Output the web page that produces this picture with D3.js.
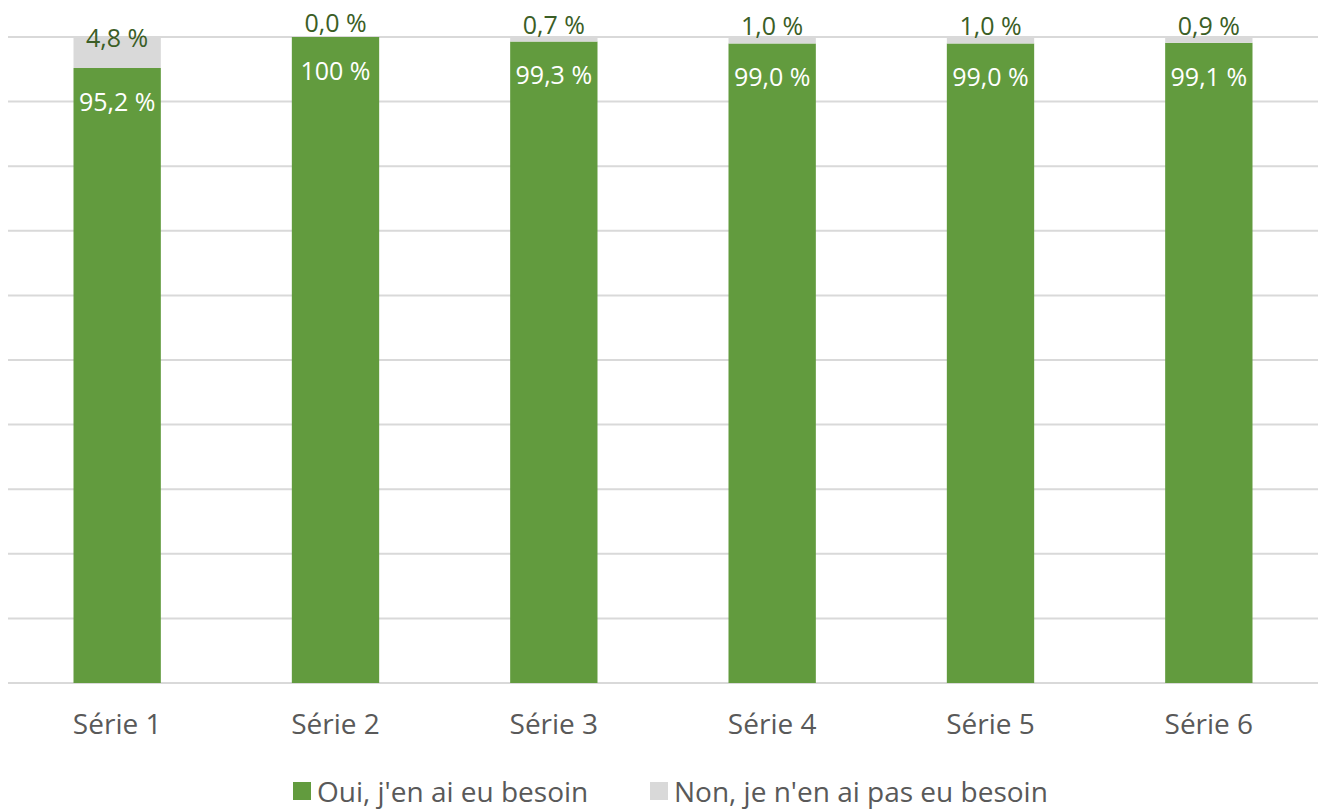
<!DOCTYPE html>
<html>
<head>
<meta charset="utf-8">
<script src="https://cdn.jsdelivr.net/npm/d3@7"></script>
<style>
  body { margin: 0; background: #fff; }
  svg text { font-family: "Open Sans", "Noto Sans", sans-serif; }
</style>
</head>
<body>
<div id="chart-area"></div>
<script>
// stacked 100% bars, two answers per series
var categories = ["Série 1", "Série 2", "Série 3", "Série 4", "Série 5", "Série 6"];
var ouiValues = [95.2, 100, 99.3, 99.0, 99.0, 99.1];
var nonValues = [4.8, 0.0, 0.7, 1.0, 1.0, 0.9];
var legendLabels = ["Oui, j'en ai eu besoin", "Non, je n'en ai pas eu besoin"];
var gridTicks = [0, 10, 20, 30, 40, 50, 60, 70, 80, 90, 100];

var width = 1320, height = 811;
var colors = ["#629b3e", "#d9d9d9"];

var svg = d3.select("#chart-area").append("svg")
    .attr("width", width)
    .attr("height", height);

var x = d3.scaleBand()
    .domain(categories)
    .range([8, 1318])
    .paddingInner(0.6)
    .paddingOuter(0.3);

var y = d3.scaleLinear()
    .domain([0, 100])
    .range([683, 37]);

// gridlines
svg.append("g").selectAll("line")
    .data(gridTicks)
    .enter().append("line")
    .attr("x1", 8)
    .attr("x2", 1318)
    .attr("y1", function(d) { return y(d); })
    .attr("y2", function(d) { return y(d); })
    .attr("stroke", "#d9d9d9")
    .attr("stroke-width", 2);

var rows = categories.map(function(c, i) {
    return { cat: c, oui: ouiValues[i], non: nonValues[i] };
});
var stack = d3.stack().keys(["oui", "non"]);
var series = stack(rows);

function fmt(v) {
    if (v === 100) return "100 %";
    return v.toFixed(1).replace(".", ",") + " %";
}

var groups = svg.append("g").selectAll("g")
    .data(series)
    .enter().append("g")
    .attr("fill", function(d, i) { return colors[i]; });

groups.selectAll("rect")
    .data(function(d) { return d; })
    .enter().append("rect")
    .attr("x", function(d) { return x(d.data.cat); })
    .attr("width", x.bandwidth())
    .attr("y", function(d) { return y(d[1]); })
    .attr("height", function(d) { return y(d[0]) - y(d[1]); });

// labels for the green part (inside, near the top)
svg.append("g").selectAll("text")
    .data(series[0])
    .enter().append("text")
    .attr("x", function(d) { return x(d.data.cat) + x.bandwidth() / 2; })
    .attr("y", function(d) { return y(d[1]) + 34; })
    .attr("dy", "0.35em")
    .attr("text-anchor", "middle")
    .attr("fill", "#ffffff")
    .style("font-size", "25px")
    .text(function(d) { return fmt(d.data.oui); });

// labels for the grey part
svg.append("g").selectAll("text")
    .data(series[1])
    .enter().append("text")
    .attr("x", function(d) { return x(d.data.cat) + x.bandwidth() / 2; })
    .attr("y", function(d) { return (y(d[0]) + y(d[1])) / 2 - 14; })
    .attr("dy", "0.35em")
    .attr("text-anchor", "middle")
    .attr("fill", "#3b5e26")
    .style("font-size", "25px")
    .text(function(d) { return fmt(d.data.non); });

// x axis labels
var xAxis = d3.axisBottom(x).tickSize(0).tickPadding(0);
var gx = svg.append("g")
    .attr("transform", "translate(0,683)")
    .call(xAxis);
gx.select(".domain").remove();
gx.selectAll("text")
    .attr("y", 41)
    .attr("dy", "0.35em")
    .attr("fill", "#595959")
    .style("font-size", "28px")
    .style("font-family", "'Open Sans', 'Noto Sans', sans-serif");

// legend
var legendX = [293, 650];
var legend = svg.append("g").selectAll("g")
    .data(legendLabels)
    .enter().append("g")
    .attr("transform", function(d, i) { return "translate(" + legendX[i] + ",782)"; });
legend.append("rect")
    .attr("width", 18)
    .attr("height", 18)
    .attr("fill", function(d, i) { return colors[i]; });
legend.append("text")
    .attr("x", 24)
    .attr("y", 10)
    .attr("dy", "0.35em")
    .attr("fill", "#595959")
    .style("font-size", "28px")
    .text(function(d) { return d; });
</script>
</body>
</html>
